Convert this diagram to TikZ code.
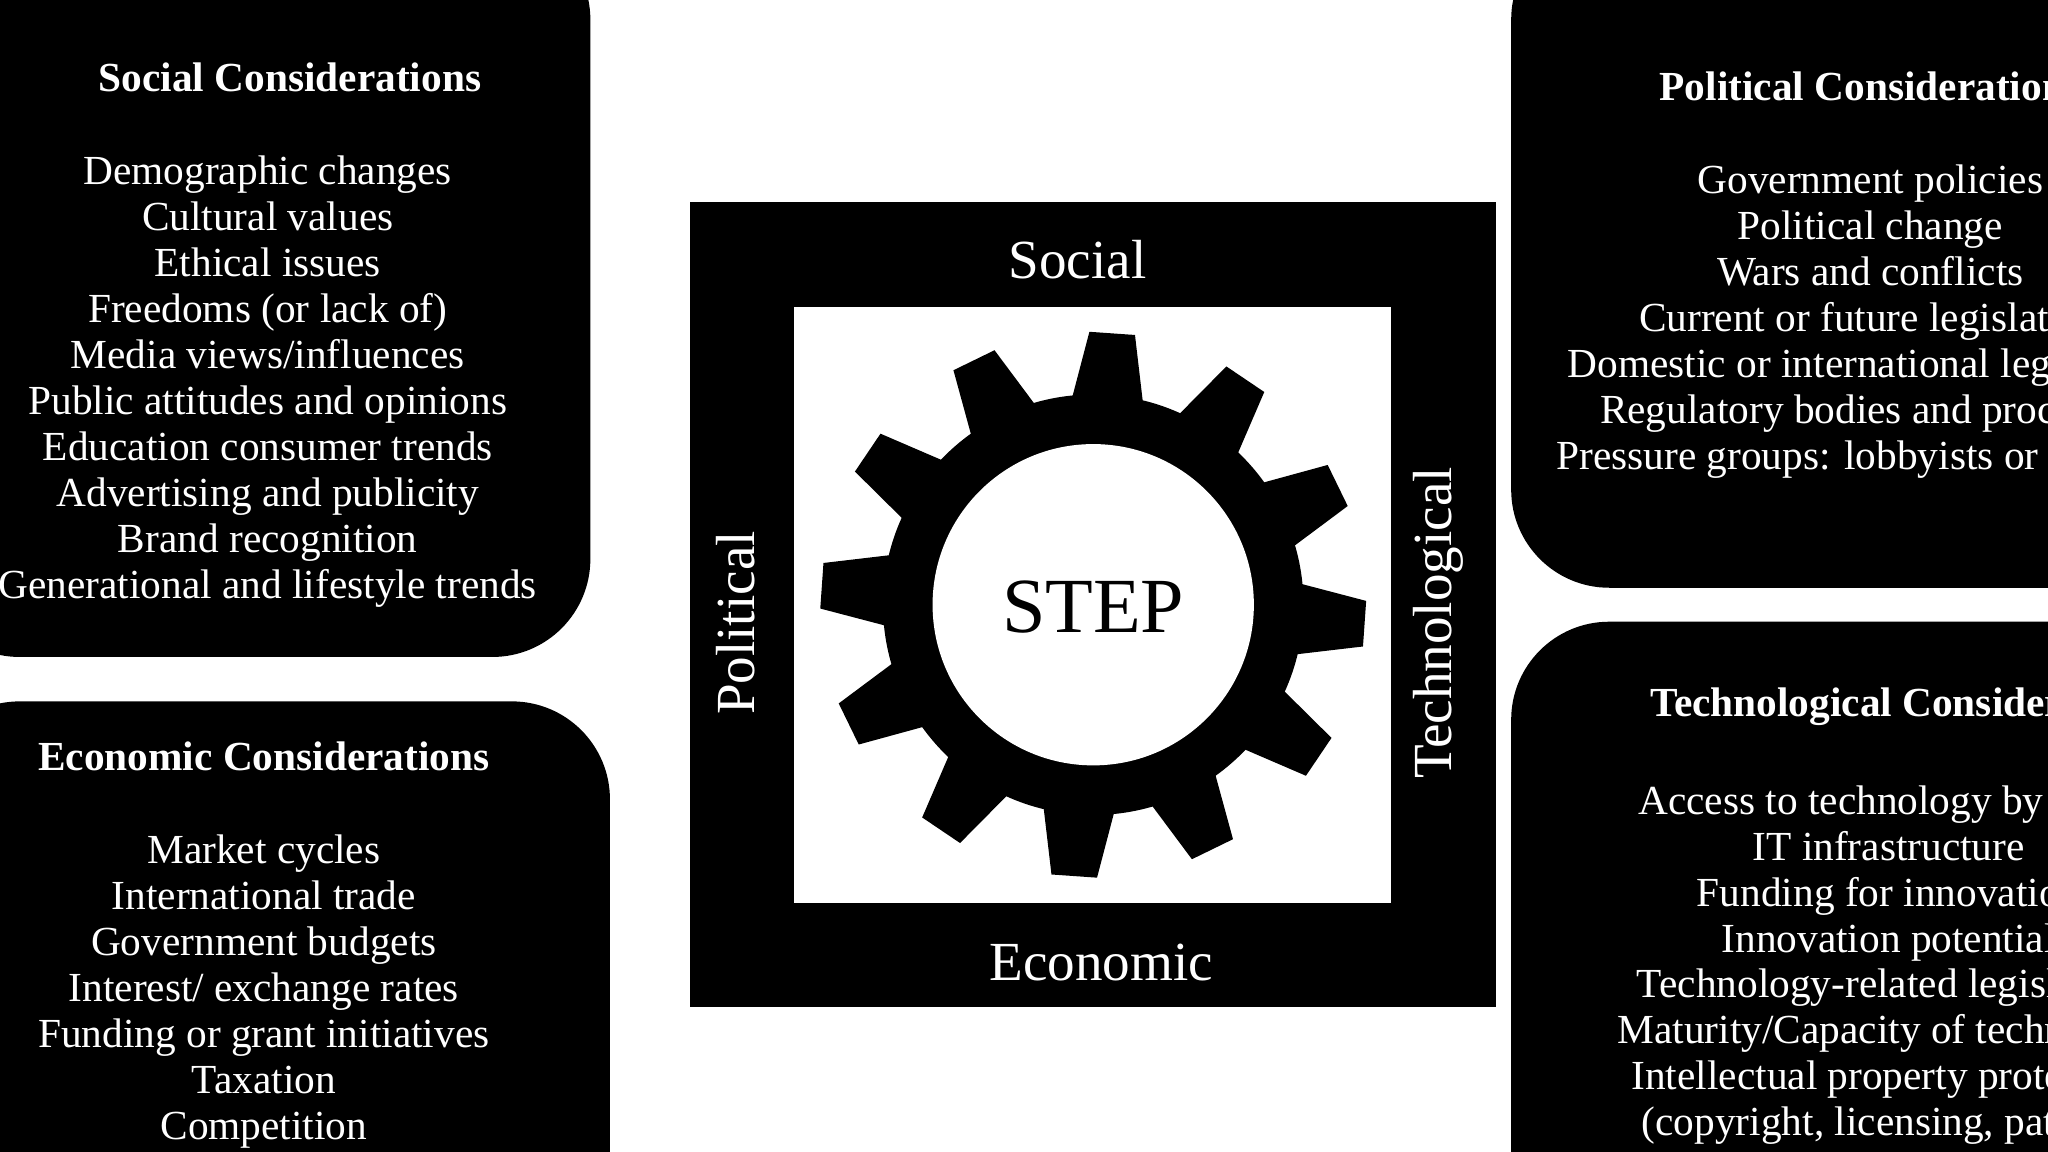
\documentclass[tikz,border=0pt]{standalone}
\usepackage{fontspec}
\setmainfont{Liberation Serif}
\begin{document}
\begin{tikzpicture}[x=0.01cm,y=-0.01cm,
  blk/.style={fill=black,rounded corners=0.75cm},
  item/.style={text=white,align=center,font=\fontsize{9}{10}\selectfont,anchor=north},
  ttl/.style={text=white,font=\fontsize{9}{10}\selectfont\bfseries},
  lab/.style={text=white,font=\fontsize{12}{14}\selectfont}]
\useasboundingbox (0,0) rectangle (1568,882);
\clip (0,0) rectangle (1568,882);
% boxes
\fill[blk] (-60,-60) rectangle (452,503);
\fill[blk] (-60,537) rectangle (467,960);
\fill[blk] (1157,-60) rectangle (1660,450);
\fill[blk] (1157,476) rectangle (1660,960);
\node[ttl] (st) at (222,59) {Social Considerations};
\node[item] (si) at (205,107) {Demographic changes\\Cultural values\\Ethical issues\\Freedoms (or lack of)\\Media views/influences\\Public attitudes and opinions\\Education consumer trends\\Advertising and publicity\\Brand recognition\\Generational and lifestyle trends};
\node[ttl] (et) at (202,579) {Economic Considerations};
\node[item] (ei) at (202,627) {Market cycles\\International trade\\Government budgets\\Interest/ exchange rates\\Funding or grant initiatives\\Taxation\\Competition};
\node[ttl] (pt) at (1432,66) {Political Considerations};
\node[item] (pi) at (1432,114) {Government policies\\Political change\\Wars and conflicts\\Current or future legislation\\Domestic or international legislation\\Regulatory bodies and processes\\Pressure groups: lobbyists or activists};
\node[ttl] (tt) at (1462,541) {Technological Considerations};
\node[item] (ti) at (1446,589) {Access to technology by users\\IT infrastructure\\Funding for innovation\\Innovation potential\\Technology-related legislation\\Maturity/Capacity of technology\\Intellectual property protection\\(copyright, licensing, patents)};
% central square
\fill[black] (528,155) rectangle (1145,771);
\fill[white] (608,235) rectangle (1065,691);
\node[lab] (so) at (825,199) {Social};
\node[lab] (ec) at (843,737) {Economic};
\node[lab,rotate=90] (po) at (563,477) {Political};
\node[lab,rotate=90] (te) at (1101,477) {Technological};
% gear
\begin{scope}[shift={(837,463)}]
\fill[black] (0,0) circle (161);
\foreach \k in {0,...,11}{
  \pgfmathsetmacro{\a}{4+30*\k}
  \fill[black] (\a+10:158) -- (\a+4.8:209) -- (\a-4.8:209) -- (\a-10:158) -- cycle;
}
\fill[white] (0,0) circle (123);
\end{scope}
\node[font=\fontsize{17}{20}\selectfont] (step) at (837,465) {STEP};
\end{tikzpicture}
\end{document}
